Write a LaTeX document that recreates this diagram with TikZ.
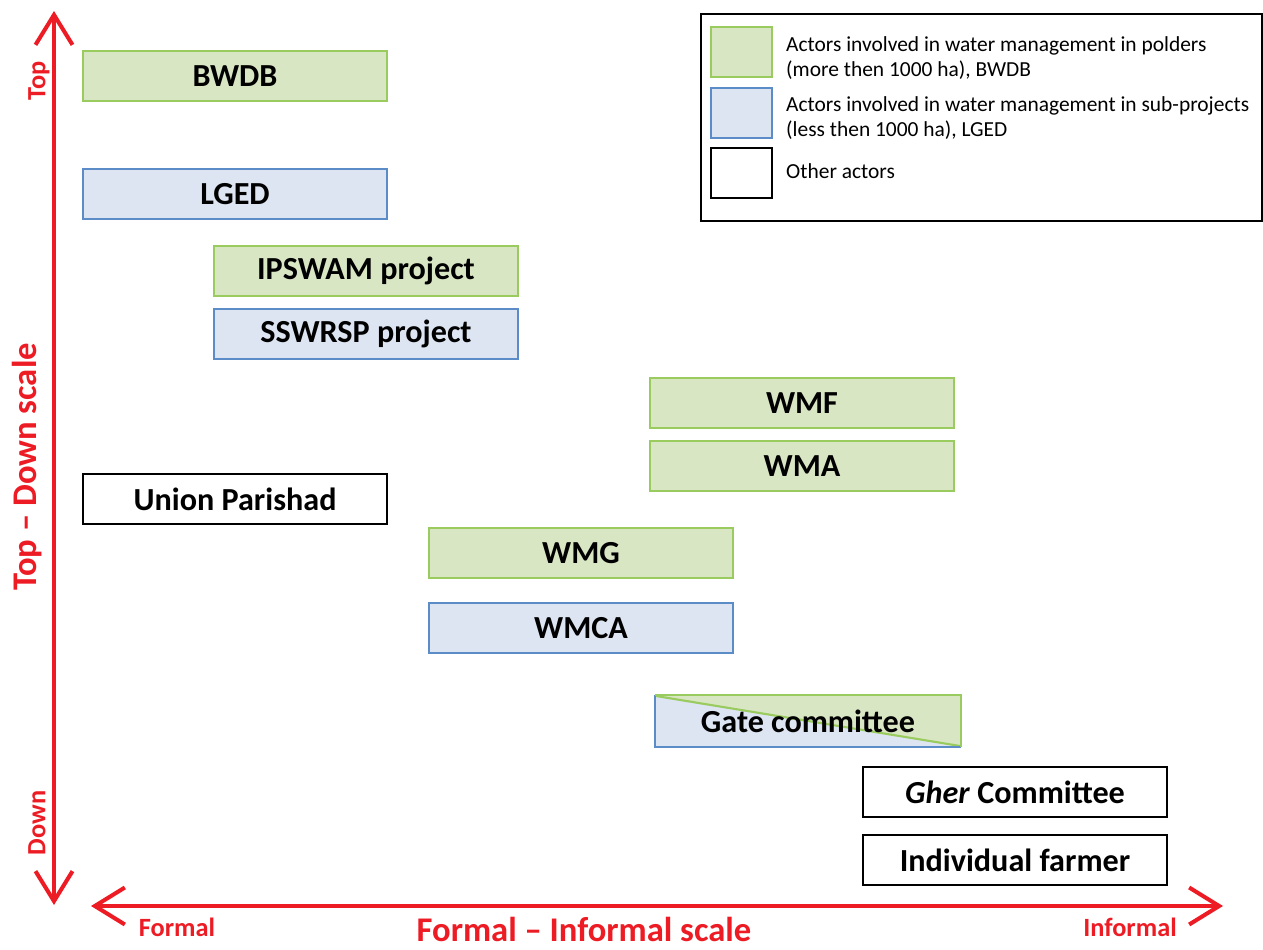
\documentclass[tikz,border=0pt]{standalone}
\usepackage{fontspec}
\setmainfont{Carlito}
\usetikzlibrary{arrows.meta,positioning}
\definecolor{polderfill}{HTML}{D9E6C3}
\definecolor{polderline}{HTML}{9ACB5E}
\definecolor{subfill}{HTML}{DDE5F3}
\definecolor{subline}{HTML}{5B8CC8}
\definecolor{scalered}{HTML}{ED1C24}

\tikzset{
  actor/.style={rectangle,minimum width=6.08cm,minimum height=1cm,inner sep=0pt,
    line width=1.2pt,font=\fontsize{18.3}{21}\selectfont\bfseries},
  polder/.style={actor,draw=polderline,fill=polderfill},
  subproj/.style={actor,draw=subline,fill=subfill},
  other/.style={actor,draw=black,fill=white},
  keybox/.style={rectangle,minimum width=1.22cm,minimum height=1cm,inner sep=0pt,line width=1.2pt},
  keytext/.style={anchor=west,align=left,font=\fontsize{12.2}{14.2}\selectfont},
  axis/.style={draw=scalered,line width=2.3pt,{Straight Barb[length=0.6cm,width=0.74cm,line width=2.3pt]}-{Straight Barb[length=0.6cm,width=0.74cm,line width=2.3pt]}},
  scalelabel/.style={text=scalered,font=\fontsize{15}{17}\selectfont\bfseries},
  scaletitle/.style={text=scalered,inner sep=1pt,font=\fontsize{19.7}{22}\selectfont\bfseries}
}

\begin{document}
\begin{tikzpicture}[x=0.02cm,y=-0.02cm]
    \useasboundingbox (0,0) rectangle (1263,949);

    % actors
    \node[polder] (bwdb) at (235,76) {BWDB};
    \node[subproj] (lged) at (235,194) {LGED};
    \node[polder] (ipswam) at (366,271) {IPSWAM project};
    \node[subproj] (sswrsp) at (366,334) {SSWRSP project};
    \node[polder] (wmf) at (802,403) {WMF};
    \node[polder] (wma) at (802,466) {WMA};
    \node[other] (up) at (235,499) {Union Parishad};
    \node[polder] (wmg) at (581,553) {WMG};
    \node[subproj] (wmca) at (581,628) {WMCA};
    \node[actor,path picture={
        \fill[subfill] (path picture bounding box.north west) -- (path picture bounding box.south east)
            -- (path picture bounding box.south west) -- cycle;
        \fill[polderfill] (path picture bounding box.north west) -- (path picture bounding box.north east)
            -- (path picture bounding box.south east) -- cycle;
        \draw[polderline,line width=1.2pt] (path picture bounding box.north west) -- (path picture bounding box.south east);
      }] (gate) at (808,721) {Gate committee};
    \draw[subline,line width=1.2pt] (gate.north west) -- (gate.south west) -- (gate.south east);
    \draw[polderline,line width=1.2pt] (gate.north west) -- (gate.north east) -- (gate.south east);
    \node[other] (gher) at (1015,792) {\textit{Gher} Committee};
    \node[other] (farmer) at (1015,860) {Individual farmer};

    % legend
    \node[draw=black,line width=1.2pt,minimum width=11.22cm,minimum height=4.14cm,inner sep=0pt] (legend) at (981.5,117.5) {};
    \node[keybox,draw=polderline,fill=polderfill] (keypolder) at (741.5,52) {};
    \node[keybox,draw=subline,fill=subfill] (keysub) at (741.5,113) {};
    \node[keybox,draw=black] (keyother) at (741.5,173) {};
    \node[keytext] (txtpolder) at (780,58) {Actors involved in water management in polders\\(more then 1000 ha), BWDB};
    \node[keytext] (txtsub) at (780,118) {Actors involved in water management in sub-projects\\(less then 1000 ha), LGED};
    \node[keytext] (txtother) at (780,171) {Other actors};

    % scales
    \coordinate (topend) at (54,11);
    \coordinate (downend) at (54,905);
    \coordinate (formalend) at (91,906);
    \coordinate (informalend) at (1223,906);
    \draw[axis] (downend) -- (topend);
    \draw[axis] (formalend) -- (informalend);

    \node[scalelabel,rotate=90] (toplab) at (39,81) {Top};
    \node[scalelabel,rotate=90] (downlab) at (37,823) {Down};
    \node[scaletitle,rotate=90] (vtitle) at (27,467) {Top -- Down scale};
    \node[scalelabel] (formallab) at (177,927) {Formal};
    \node[scalelabel] (informallab) at (1130,927) {Informal};
    \node[scaletitle] (htitle) at (584,929) {Formal -- Informal scale};
\end{tikzpicture}
\end{document}
